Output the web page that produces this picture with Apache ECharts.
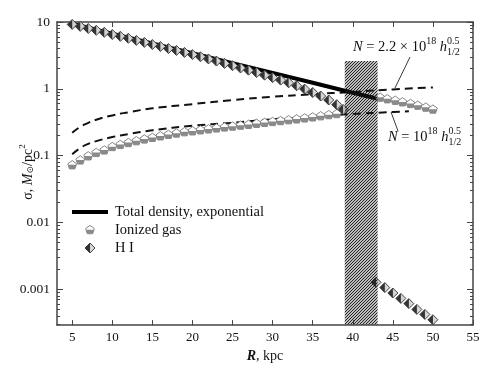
<!DOCTYPE html>
<html>
<head>
<meta charset="utf-8">
<script src="https://cdn.jsdelivr.net/npm/echarts@6/dist/echarts.min.js"></script>
<style>
  html, body { margin: 0; padding: 0; background: #fff; }
  #chart { width: 504px; height: 368px; }
</style>
</head>
<body>
<div id="chart"></div>
<script>
// ---- data ----
const xTicks = [5, 10, 15, 20, 25, 30, 35, 40, 45, 50, 55];
const yMajor = [0.001, 0.01, 0.1, 1, 10];

// total density, exponential (thick line)
const totalR = [5, 10, 15, 20, 25, 30, 35, 40, 43];
const totalSigma = [9.4, 6.7, 4.78, 3.4, 2.42, 1.73, 1.23, 0.875, 0.715];

// H I, inside the disk and beyond the hatched zone
const hiR = [5, 6, 7, 8, 9, 10, 11, 12, 13, 14, 15, 16, 17, 18, 19, 20, 21, 22, 23, 24, 25,
  26, 27, 28, 29, 30, 31, 32, 33, 34, 35, 36, 37, 38, 38.8,
  42.9, 44, 45, 46, 47, 48, 49, 50];
const hiSigma = [9.2, 8.6, 8.0, 7.5, 7.0, 6.5, 6.1, 5.7, 5.3, 4.95, 4.6, 4.3, 4.0, 3.75, 3.5, 3.25, 3.02, 2.8, 2.6, 2.4, 2.22,
  2.05, 1.9, 1.75, 1.6, 1.47, 1.35, 1.23, 1.11, 0.99, 0.88, 0.78, 0.68, 0.58, 0.49,
  0.00127, 0.00106, 0.00088, 0.00073, 0.00061, 0.0005, 0.00042, 0.00035];

// ionized gas
const ionR = [5, 6, 7, 8, 9, 10, 11, 12, 13, 14, 15, 16, 17, 18, 19, 20, 21, 22, 23, 24, 25,
  26, 27, 28, 29, 30, 31, 32, 33, 34, 35, 36, 37, 38,
  43.4, 44.3, 45.3, 46.2, 47.2, 48.1, 49.1, 50];
const ionSigma = [0.072, 0.085, 0.098, 0.11, 0.12, 0.135, 0.145, 0.155, 0.165, 0.175, 0.185, 0.195, 0.205, 0.215, 0.225, 0.232, 0.24, 0.248, 0.256, 0.265, 0.273,
  0.282, 0.29, 0.3, 0.31, 0.32, 0.33, 0.34, 0.35, 0.362, 0.375, 0.39, 0.405, 0.42,
  0.74, 0.7, 0.665, 0.63, 0.595, 0.56, 0.525, 0.49];

// dashed curves: N = 2.2e18 h^0.5 and N = 1e18 h^0.5
const upperR = [5, 6, 7, 8, 10, 12, 15, 20, 25, 30, 35, 40, 45, 50];
const upperSigma = [0.22, 0.27, 0.31, 0.345, 0.4, 0.445, 0.51, 0.59, 0.68, 0.76, 0.83, 0.9, 0.98, 1.05];
const lowerR = [5, 6, 7, 8, 10, 12, 15, 20, 25, 30, 35, 40, 45, 47];
const lowerSigma = [0.105, 0.13, 0.15, 0.165, 0.19, 0.21, 0.24, 0.28, 0.31, 0.35, 0.38, 0.42, 0.45, 0.46];

// hatched zone: R from, R to, sigma top, sigma bottom
const hatchZone = [39.0, 43.1, 2.6, 0.000296];

const yMin = 0.000291, yMax = 10;
const FONT = '"Liberation Serif", "DejaVu Serif", serif';

// minor log ticks 2..9 per decade
const yMinor = [];
for (let k = -4; k <= 0; k++) {
  for (let m = 2; m <= 9; m++) {
    const v = +(m * Math.pow(10, k)).toPrecision(3);
    if (v > yMin && v < yMax) yMinor.push(v);
  }
}

const pairs = (xs, ys) => xs.map((x, i) => [x, ys[i]]);

// ---- marker shapes ----
function diamondShape(x, y) {
  const s = 5;
  return [
    { type: 'polygon', shape: { points: [[x, y - s], [x + s, y], [x, y + s], [x - s, y]] },
      style: { fill: '#d4d4d4', stroke: '#333', lineWidth: 0.9 } },
    { type: 'polygon', shape: { points: [[x, y - s], [x, y + s], [x - s, y]] },
      style: { fill: '#333' } }
  ];
}
function pentagonShape(x, y) {
  const r = 4.6;
  const pts = [];
  for (let i = 0; i < 5; i++) {
    const a = -Math.PI / 2 + i * 2 * Math.PI / 5;
    pts.push([x + r * Math.cos(a), y + r * Math.sin(a)]);
  }
  return [
    { type: 'polygon', shape: { points: pts }, style: { fill: '#fff', stroke: '#777', lineWidth: 0.9 } },
    { type: 'polygon', shape: { points: [[x - r * 0.86, y - 0.3], [x + r * 0.86, y - 0.3], pts[2], pts[3]] },
      style: { fill: '#8a8a8a' } }
  ];
}

// hatch pattern
const hatch = document.createElement('canvas');
hatch.width = 3; hatch.height = 3;
const hc = hatch.getContext('2d');
hc.strokeStyle = '#1a1a1a';
hc.lineWidth = 1.1;
hc.beginPath();
hc.moveTo(0, 3); hc.lineTo(3, 0);
hc.moveTo(-1, 1); hc.lineTo(1, -1);
hc.moveTo(2, 4); hc.lineTo(4, 2);
hc.stroke();

// sequential text runs (for super/subscripts)
const mctx = document.createElement('canvas').getContext('2d');
function runText(pieces, x0, y0) {
  const out = [];
  let x = x0;
  pieces.forEach(p => {
    const font = (p.it ? 'italic ' : '') + p.fs + 'px ' + FONT;
    mctx.font = font;
    out.push({ type: 'text', x: x, y: y0 + (p.dy || 0),
      style: { text: p.t, font: font, fill: '#111', textAlign: 'left', textVerticalAlign: 'middle' } });
    if (!p.stay) x += mctx.measureText(p.t).width;
  });
  return { els: out, width: x - x0 };
}

const upperLabel = runText([
  { t: 'N', fs: 14.5, it: true }, { t: ' = 2.2 × 10', fs: 14.5 }, { t: '18', fs: 10, dy: -6 },
  { t: ' ', fs: 14.5 }, { t: 'h', fs: 14.5, it: true }, { t: '0.5', fs: 10, dy: -6, stay: true },
  { t: '1/2', fs: 10, dy: 5 }
], 353, 47);
const lowerLabel = runText([
  { t: 'N', fs: 14.5, it: true }, { t: ' = 10', fs: 14.5 }, { t: '18', fs: 10, dy: -6 },
  { t: ' ', fs: 14.5 }, { t: 'h', fs: 14.5, it: true }, { t: '0.5', fs: 10, dy: -6, stay: true },
  { t: '1/2', fs: 10, dy: 5 }
], 388, 137);

const yTitlePieces = [
  { t: 'σ, ', fs: 14 }, { t: 'M', fs: 14, it: true }, { t: '⊙', fs: 9, dy: 3 },
  { t: '/pc', fs: 14 }, { t: '2', fs: 9, dy: -5 }
];
const yTitleW = runText(yTitlePieces, 0, 0).width;
const yTitle = runText(yTitlePieces, -yTitleW / 2, 0);

const axisColor = '#444';
function xAx(pos, labels) {
  return {
    type: 'value', min: 3.1, max: 55, position: pos,
    axisLine: { show: true, onZero: false, lineStyle: { color: axisColor, width: 1.5 } },
    axisTick: { show: true, inside: true, length: 5, customValues: xTicks, lineStyle: { color: axisColor } },
    axisLabel: { show: labels, customValues: xTicks, margin: 6, fontFamily: FONT, fontSize: 13, color: '#111' },
    splitLine: { show: false }
  };
}
function yAx(pos, minor, labels) {
  return {
    type: 'log', logBase: 10, min: yMin, max: yMax, position: pos,
    axisLine: { show: !minor, lineStyle: { color: axisColor, width: 1.5 } },
    axisTick: { show: true, inside: true, length: minor ? 3 : 6, customValues: minor ? yMinor : yMajor,
      lineStyle: { color: axisColor } },
    axisLabel: { show: labels, customValues: yMajor, margin: 7, fontFamily: FONT, fontSize: 13.5, color: '#111',
      formatter: v => String(+(+v).toPrecision(3)) },
    splitLine: { show: false }, minorTick: { show: false }
  };
}

const chart = echarts.init(document.getElementById('chart'));
const xBottom = xAx('bottom', true);
xBottom.name = '{i|R}, kpc';
xBottom.nameLocation = 'middle';
xBottom.nameGap = 22;
xBottom.nameTextStyle = { fontFamily: FONT, fontSize: 14, color: '#111',
  rich: { i: { fontFamily: FONT, fontSize: 14, fontStyle: 'italic', fontWeight: 'bold', color: '#111' } } };

chart.setOption({
  animation: false,
  backgroundColor: '#fff',
  grid: { left: 57, right: 31, top: 22, bottom: 41 },
  xAxis: [xBottom, xAx('top', false)],
  yAxis: [yAx('left', false, true), yAx('left', true, false), yAx('right', false, false), yAx('right', true, false)],
  series: [
    { name: 'N = 2.2e18', type: 'line', data: pairs(upperR, upperSigma), smooth: true, showSymbol: false,
      lineStyle: { color: '#111', width: 2, type: [8, 5] }, z: 2 },
    { name: 'N = 1e18', type: 'line', data: pairs(lowerR, lowerSigma), smooth: true, showSymbol: false,
      lineStyle: { color: '#111', width: 2, type: [8, 5] }, z: 2 },
    { name: 'Total density, exponential', type: 'line', data: pairs(totalR, totalSigma), showSymbol: false,
      lineStyle: { color: '#000', width: 4 }, z: 3 },
    { name: 'Ionized gas', type: 'custom', data: pairs(ionR, ionSigma), encode: { x: 0, y: 1 }, z: 4,
      renderItem: (params, api) => {
        const c = api.coord([api.value(0), api.value(1)]);
        return { type: 'group', children: pentagonShape(c[0], c[1]) };
      } },
    { name: 'H I', type: 'custom', data: pairs(hiR, hiSigma), encode: { x: 0, y: 1 }, z: 5,
      renderItem: (params, api) => {
        const c = api.coord([api.value(0), api.value(1)]);
        return { type: 'group', children: diamondShape(c[0], c[1]) };
      } },
    { name: 'hatch', type: 'custom', data: [hatchZone], encode: { x: [0, 1], y: [2, 3] }, z: 6, silent: true,
      renderItem: (params, api) => {
        const p0 = api.coord([api.value(0), api.value(2)]);
        const p1 = api.coord([api.value(1), api.value(3)]);
        return { type: 'rect', shape: { x: p0[0], y: p0[1], width: p1[0] - p0[0], height: p1[1] - p0[1] },
          style: { fill: { image: hatch, repeat: 'repeat' }, stroke: null } };
      } }
  ],
  graphic: [
    // legend
    { type: 'line', shape: { x1: 72, y1: 212, x2: 108, y2: 212 }, style: { stroke: '#000', lineWidth: 4 } },
    { type: 'text', x: 115, y: 212, style: { text: 'Total density, exponential', font: '14.5px ' + FONT, fill: '#111', textVerticalAlign: 'middle' } },
    { type: 'group', children: pentagonShape(90, 230) },
    { type: 'text', x: 115, y: 230, style: { text: 'Ionized gas', font: '14.5px ' + FONT, fill: '#111', textVerticalAlign: 'middle' } },
    { type: 'group', children: diamondShape(90, 248) },
    { type: 'text', x: 115, y: 248, style: { text: 'H I', font: '14.5px ' + FONT, fill: '#111', textVerticalAlign: 'middle' } },
    // annotations with leader lines
    { type: 'group', children: upperLabel.els },
    { type: 'group', children: lowerLabel.els },
    { type: 'line', shape: { x1: 410, y1: 57, x2: 395, y2: 88 }, style: { stroke: '#222', lineWidth: 0.9 } },
    { type: 'line', shape: { x1: 391, y1: 112, x2: 398, y2: 131 }, style: { stroke: '#222', lineWidth: 0.9 } },
    // y axis title
    { type: 'group', x: 28, y: 172, rotation: Math.PI / 2, children: yTitle.els }
  ]
});
</script>
</body>
</html>
